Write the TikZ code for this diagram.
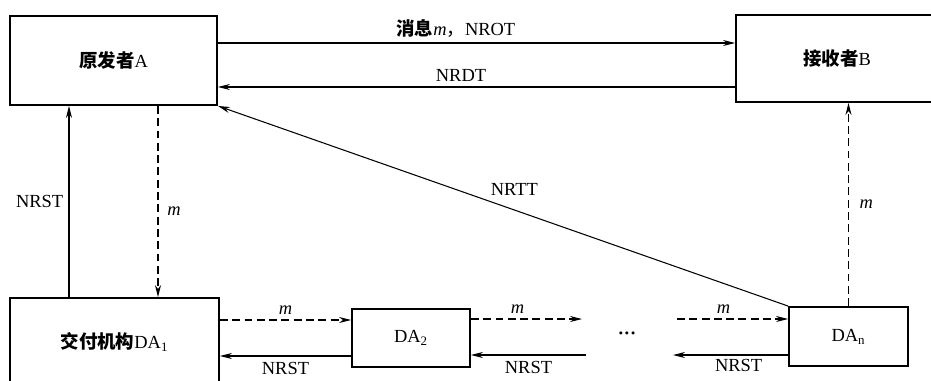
\documentclass[tikz,border=0pt]{standalone}
\usepackage{fontspec}
\setmainfont{Liberation Serif}
\newfontfamily\cjk{Noto Sans CJK SC}
\usetikzlibrary{arrows.meta, positioning}

\begin{document}
\begin{tikzpicture}[
        x=0.02cm, y=-0.02cm,
        font=\fontsize{10.5}{12}\selectfont,
        box/.style={draw, rectangle, line width=1.1pt, align=center, inner sep=0pt},
        arr/.style={-{Stealth[length=2.4mm, width=1.2mm]}, line width=0.6pt},
        darr/.style={arr, dash pattern=on 4.5pt off 2.5pt},
        lbl/.style={inner sep=1pt}
    ]
    \useasboundingbox (0,0) rectangle (931,380);
    \clip (0,0) rectangle (931,380);

    \node[box, minimum width=4.14cm, minimum height=1.78cm] (orig) at (113.5,60.5) {{\cjk\bfseries 原发者}A};
    \node[box, minimum width=4.04cm, minimum height=1.74cm] (recv) at (837,58.5) {{\cjk\bfseries 接收者}B};
    \node[box, minimum width=4.18cm, minimum height=1.76cm] (da1) at (114.5,342) {{\cjk\bfseries 交付机构}DA\textsubscript{1}};
    \node[box, minimum width=2.36cm, minimum height=1.16cm] (da2) at (411,338) {DA\textsubscript{2}};
    \node[box, minimum width=2.38cm, minimum height=1.18cm] (dan) at (848.5,336.5) {DA\textsubscript{n}};
    \node (dots) at (627,336) {\textbf{···}};

    \coordinate (endA) at (582,319);
    \coordinate (startA) at (586,355);
    \coordinate (startB) at (677,319);
    \coordinate (endB) at (673,355);

    % A <-> B
    \draw[arr] (orig.east |- 0,43) -- (recv.west |- 0,43)
        node[lbl, pos=0.46, above=2pt] {{\cjk\bfseries 消息}\textit{m}{\cjk ，}NROT};
    \draw[arr] (recv.west |- 0,87) -- (orig.east |- 0,87)
        node[lbl, pos=0.53, above=2pt] {NRDT};

    % A <-> DA1
    \draw[arr] (da1.north -| 69,0) -- (orig.south -| 69,0)
        node[lbl, midway, left=2pt] {NRST};
    \draw[darr] (orig.south -| 158,0) -- (da1.north -| 158,0)
        node[lbl, pos=0.55, right=4pt] {\textit{m}};

    % DAn -> A, B
    \draw[arr] (dan.north west) -- (orig.south east)
        node[lbl, pos=0.48, above=7pt] {NRTT};
    \draw[darr] (dan.north) -- (dan.north |- recv.south)
        node[lbl, midway, right=5pt] {\textit{m}};

    % chain of agents
    \draw[darr] (da1.east |- 0,320) -- (da2.west |- 0,320)
        node[lbl, midway, above=2pt] {\textit{m}};
    \draw[arr] (da2.west |- 0,356) -- (da1.east |- 0,356)
        node[lbl, midway, below=2pt] {NRST};
    \draw[darr] (da2.east |- 0,319) -- (endA)
        node[lbl, pos=0.42, above=2pt] {\textit{m}};
    \draw[arr] (startA) -- (da2.east |- 0,355)
        node[lbl, midway, below=2pt] {NRST};
    \draw[darr] (startB) -- (dan.west |- 0,319)
        node[lbl, pos=0.42, above=2pt] {\textit{m}};
    \draw[arr] (dan.west |- 0,355) -- (endB)
        node[lbl, pos=0.43, below=1pt] {NRST};

\end{tikzpicture}
\end{document}
